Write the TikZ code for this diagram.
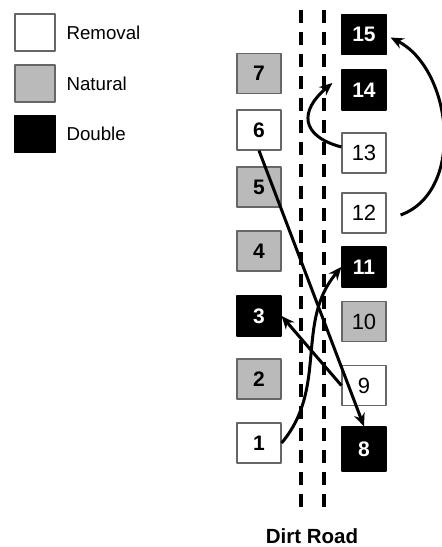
\documentclass[tikz,border=0pt]{standalone}
\usepackage{fontspec}
\setmainfont{Liberation Sans}
\usetikzlibrary{arrows.meta}

\begin{document}
\begin{tikzpicture}[x=1pt, y=1pt, line join=round,
    plot/.style={draw=black!60, line width=1.2pt, minimum width=44pt, minimum height=40pt,
      inner sep=0pt, font=\fontsize{21}{21}\selectfont\bfseries},
    removal/.style={plot, fill=white},
    natural/.style={plot, fill=black!27},
    double/.style={plot, fill=black, draw=black, text=white},
    thin/.style={font=\fontsize{22}{22}\selectfont},
    key/.style={minimum width=40pt, minimum height=37pt},
    keytext/.style={anchor=west, font=\fontsize{18.7}{18.7}\selectfont},
    road/.style={line width=3.5pt, dash pattern=on 13pt off 9pt},
    move/.style={line width=3pt, -{Stealth[length=13pt, width=11pt]}}]
    \useasboundingbox (0,0) rectangle (442,547);
    % legend
    \node[removal, key] (kRem) at (35,514.5) {};
    \node[natural, key] (kNat) at (35,463.5) {};
    \node[double, key] (kDbl) at (35,413) {};
    \node[keytext] (tRem) at (63,514.5) {Removal};
    \node[keytext] (tNat) at (63,463.5) {Natural};
    \node[keytext] (tDbl) at (63,413) {Double};
    % road
    \draw[road] (301,537) -- (301,35);
    \draw[road] (324,537) -- (324,35);
    \node[anchor=base, font=\fontsize{20.5}{20.5}\selectfont\bfseries] (road) at (312,3) {Dirt Road};
    % plots west of the road
    \node[natural] (n7) at (259,473.5) {7};
    \node[removal] (n6) at (259,417) {6};
    \node[natural] (n5) at (259,360) {5};
    \node[natural] (n4) at (259,296) {4};
    \node[double]  (n3) at (259,231) {3};
    \node[natural] (n2) at (259,168) {2};
    \node[removal] (n1) at (259,104) {1};
    % plots east of the road
    \node[double]  (n15) at (364,512.5) {15};
    \node[double]  (n14) at (364,457) {14};
    \node[removal, thin] (n13) at (364,394) {13};
    \node[removal, thin] (n12) at (364,334) {12};
    \node[double]  (n11) at (364,280) {11};
    \node[natural, thin] (n10) at (364,225.5) {10};
    \node[removal, thin] (n9)  at (364,161.5) {9};
    \node[double, minimum height=44pt] (n8) at (364,98) {8};
    % moves
    \draw[move] (n6.south) -- (n8.north);
    \draw[move] (n9.west) -- (n3.east);
    \draw[move] (n1.east) to[out=50, in=-130] (n11.west);
    \draw[move] ([yshift=6pt]n13.west) to[out=165, in=-140, looseness=1.7] ([xshift=-9pt, yshift=7pt]n14.west);
    \draw[move] ([xshift=14pt, yshift=-2pt]n12.east) to[out=20, in=-27] ([xshift=4pt, yshift=-3pt]n15.east);
\end{tikzpicture}
\end{document}
